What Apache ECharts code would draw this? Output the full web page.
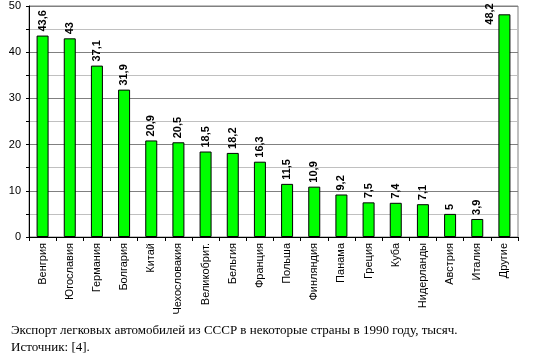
<!DOCTYPE html>
<html><head><meta charset="utf-8">
<script src="https://cdn.jsdelivr.net/npm/echarts@6/dist/echarts.min.js"></script>
<style>html,body{margin:0;padding:0;background:#fff}#c{width:539px;height:358px}</style>
</head><body><div id="c"></div>
<script>
const categories = ['Венгрия','Югославия','Германия','Болгария','Китай','Чехословакия','Великобрит.','Бельгия','Франция','Польша','Финляндия','Панама','Греция','Куба','Нидерланды','Австрия','Италия','Другие'];
const values = [43.6, 43, 37.1, 31.9, 20.9, 20.5, 18.5, 18.2, 16.3, 11.5, 10.9, 9.2, 7.5, 7.4, 7.1, 5, 3.9, 48.2];
const yTicks = [0, 10, 20, 30, 40, 50];
const caption1 = 'Экспорт легковых автомобилей из СССР в некоторые страны в 1990 году, тысяч.';
const caption2 = 'Источник: [4].';

const chart = echarts.init(document.getElementById('c'));
const fmt = v => String(v).replace('.', ',');
const data = values.map((v, i) => {
  if (i === values.length - 1) {
    return { value: v, label: { position: [-3, -11], align: 'right', verticalAlign: 'bottom' } };
  }
  return v;
});
chart.setOption({
  animation: false,
  grid: { left: 29, right: 21, top: 6, bottom: 121, show: true, borderColor: '#808080', borderWidth: 1 },
  xAxis: {
    type: 'category', data: categories,
    axisLine: { lineStyle: { color: '#000', width: 1 } },
    axisTick: { show: true, alignWithLabel: false, length: 4, lineStyle: { color: '#000' } },
    axisLabel: { rotate: 90, color: '#000', fontSize: 11, fontFamily: 'Liberation Sans, Arial', margin: 6, interval: 0 }
  },
  yAxis: {
    type: 'value', min: 0, max: 50, interval: 5,
    axisLine: { show: true, lineStyle: { color: '#000' } },
    axisTick: { show: true, length: 3, lineStyle: { color: '#000' } },
    axisLabel: { color: '#000', fontSize: 11, fontFamily: 'Liberation Sans, Arial', margin: 8,
      formatter: v => yTicks.includes(v) ? String(v) : '' },
    splitLine: { show: true, lineStyle: { color: ['#808080', '#c0c0c0'], width: 1 } }
  },
  series: [{
    type: 'bar', data: data, barWidth: 12,
    itemStyle: { color: '#00ff00', borderColor: '#000', borderWidth: 1 },
    label: { show: true, position: 'top', rotate: 90, align: 'left', verticalAlign: 'middle', distance: 4,
      color: '#000', fontSize: 11, fontWeight: 'bold', fontFamily: 'Liberation Sans, Arial',
      formatter: p => fmt(p.value) }
  }],
  graphic: [
    { type: 'text', left: 11, top: 324, style: { text: caption1, font: '13px "Liberation Serif", serif', fill: '#000' } },
    { type: 'text', left: 11, top: 341, style: { text: caption2, font: '13px "Liberation Serif", serif', fill: '#000' } }
  ]
});
</script></body></html>
